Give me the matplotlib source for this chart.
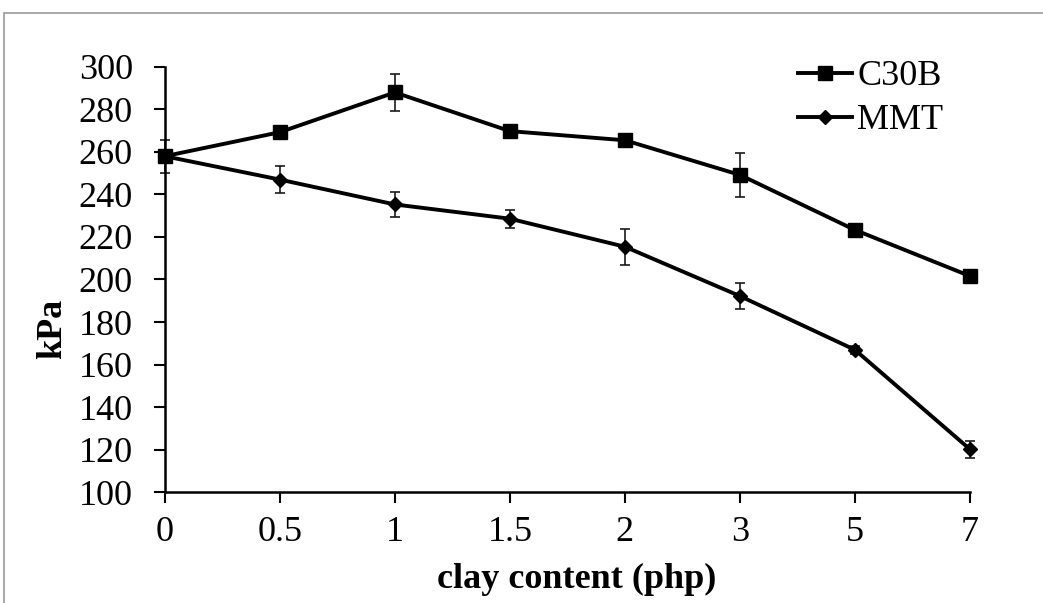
import matplotlib
matplotlib.use("Agg")
import matplotlib.pyplot as plt
from matplotlib.patches import Rectangle

plt.rcParams['font.family'] = ['Liberation Serif', 'DejaVu Serif']

# Clay loading levels (categorical, evenly spaced)
clay_labels = ["0", "0.5", "1", "1.5", "2", "3", "5", "7"]

c30b_values = [258, 269.3, 288, 269.8, 265.5, 249.2, 223.3, 201.6]
c30b_errors = [7.7, 0, 8.5, 0, 0, 10.3, 0, 0]

mmt_values = [258, 247, 235.3, 228.6, 215.4, 192.2, 166.9, 120.1]
mmt_errors = [0, 6.4, 5.9, 4.3, 8.5, 6.1, 1.8, 3.9]

y_ticks = list(range(100, 301, 20))

FS = 26

fig = plt.figure(figsize=(10.43, 6.03), dpi=100)
ax = fig.add_axes([0.158, 0.184, 0.772, 0.705])

x = list(range(len(clay_labels)))

err_kw = dict(ecolor="#1a1a1a", elinewidth=1.2, capsize=3.8, capthick=1.2)
for vals, errs in ((c30b_values, c30b_errors), (mmt_values, mmt_errors)):
    _, caps, bars = ax.errorbar(x, vals, yerr=errs, fmt="none", zorder=2, **err_kw)
    for art in list(caps) + list(bars):
        art.set_clip_on(False)

ax.plot(x, c30b_values, color="black", lw=2.8, marker="s", markersize=9.6,
        zorder=3, clip_on=False, label="C30B")
ax.plot(x, mmt_values, color="black", lw=2.8, marker="D", markersize=7,
        zorder=3, clip_on=False, label="MMT")

ax.set_xlim(0, len(clay_labels) - 1)
ax.set_ylim(100, 300)
ax.set_xticks(x)
ax.set_xticklabels(clay_labels)
ax.set_yticks(y_ticks)

ax.spines["top"].set_visible(False)
ax.spines["right"].set_visible(False)
ax.spines["left"].set_linewidth(1.8)
ax.spines["bottom"].set_linewidth(1.8)
ax.tick_params(axis="both", direction="out", length=8, width=1.5,
               labelsize=FS, colors="black")
ax.tick_params(axis="x", pad=9)
ax.tick_params(axis="y", pad=15)

ax.set_xlabel("clay content (php)", fontsize=FS, fontweight="bold")
ax.xaxis.set_label_coords(0.512, -0.167)
ax.set_ylabel("kPa", fontsize=FS, fontweight="bold", va="center")
ax.yaxis.set_label_coords(-0.139, 0.384)

ax.legend(loc="upper left", bbox_to_anchor=(798 / 1043, 1 - 60 / 603),
          bbox_transform=fig.transFigure, frameon=False, fontsize=FS,
          handlelength=1.5, handletextpad=0.14, labelspacing=0.3,
          borderpad=0, borderaxespad=0)

# outer frame around the figure
fig.patches.append(Rectangle((4 / 1043, -0.05), 1.2, 1 - 13 / 603 + 0.05,
                             transform=fig.transFigure, fill=False,
                             edgecolor="#9a9a9a", lw=1.2))

fig.savefig("out.png", dpi=100)
